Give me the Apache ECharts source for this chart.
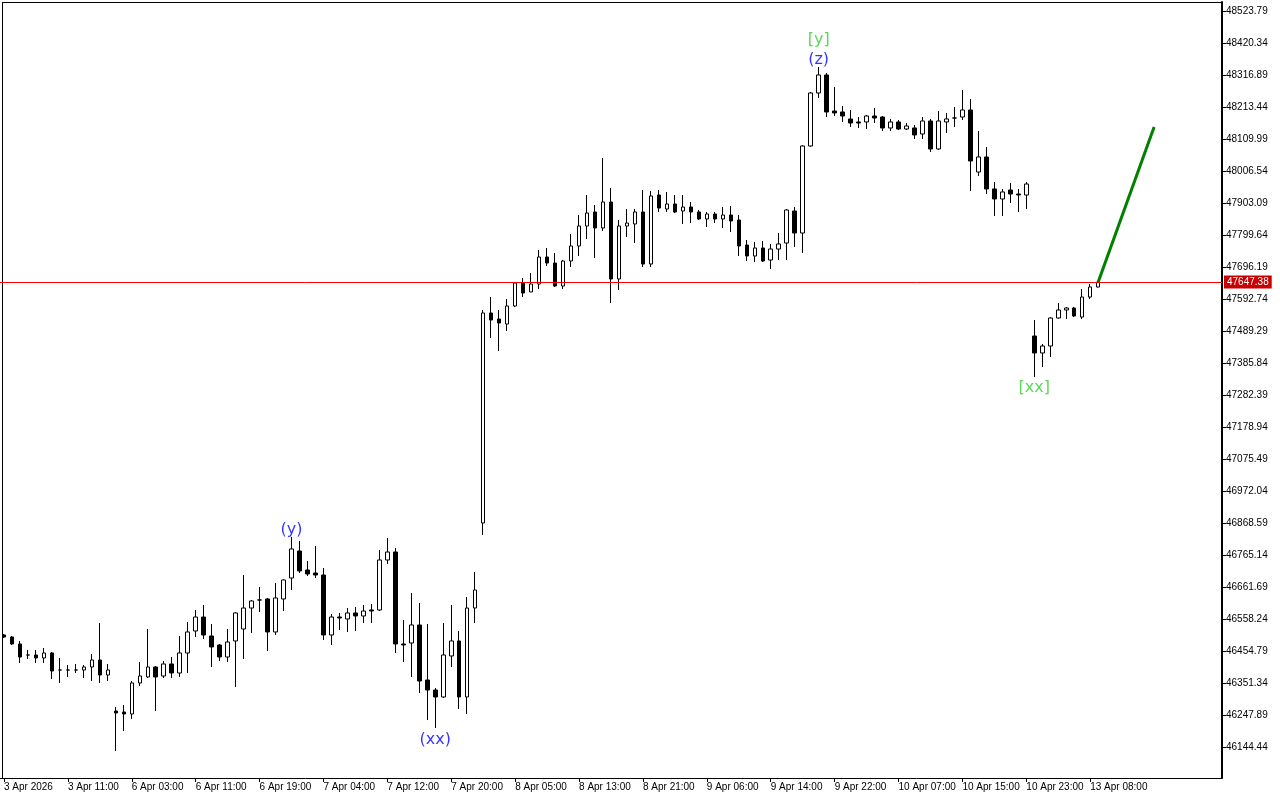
<!DOCTYPE html>
<html><head><meta charset="utf-8">
<script src="https://cdn.jsdelivr.net/npm/echarts@6/dist/echarts.min.js"></script>
<style>html,body{margin:0;padding:0;background:#fff}#c{width:1280px;height:800px}</style>
</head><body><div id="c"></div>
<script>
const xTickLabels = ['3 Apr 2026','3 Apr 11:00','6 Apr 03:00','6 Apr 11:00','6 Apr 19:00','7 Apr 04:00','7 Apr 12:00','7 Apr 20:00','8 Apr 05:00','8 Apr 13:00','8 Apr 21:00','9 Apr 06:00','9 Apr 14:00','9 Apr 22:00','10 Apr 07:00','10 Apr 15:00','10 Apr 23:00','13 Apr 08:00'];
const yTickValues = [48523.79,48420.34,48316.89,48213.44,48109.99,48006.54,47903.09,47799.64,47696.19,47592.74,47489.29,47385.84,47282.39,47178.94,47075.49,46972.04,46868.59,46765.14,46661.69,46558.24,46454.79,46351.34,46247.89,46144.44];

const opens = [46506.6,46500.1,46477.5,46441.9,46441.9,46432.2,46448.4,46393.4,46393.4,46393.4,46393.4,46403.1,46425.7,46377.2,46260.8,46257.6,46251.1,46351.4,46370.8,46403.1,
46374.0,46412.8,46383.7,46448.4,46519.5,46564.7,46503.3,46474.2,46435.4,46487.2,46525.9,46593.8,46619.7,46623.0,46516.3,46623.0,46690.8,46778.1,46716.7,46707.0,
46700.5,46506.6,46564.7,46558.3,46577.7,46568.0,46587.4,46587.4,46749.0,46774.8,46477.5,46480.7,46538.9,46361.0,46328.7,46306.1,46438.7,46487.2,46306.1,46593.8,
46868.6,47547.5,47528.1,47511.9,47570.1,47644.5,47615.4,47641.2,47728.5,47709.1,47634.8,47715.6,47764.1,47828.7,47874.0,47822.3,47906.3,47657.4,47828.7,47835.2,
47874.0,47705.9,47929.0,47883.7,47899.9,47877.2,47890.2,47874.0,47851.4,47867.5,47851.4,47864.3,47848.1,47767.3,47731.8,47757.6,47718.8,47754.3,47773.8,47877.2,
47806.1,48087.4,48258.7,48316.9,48200.5,48197.3,48174.7,48165.0,48165.0,48184.4,48181.1,48145.6,48165.0,48142.3,48145.6,48126.2,48168.2,48077.7,48165.0,48177.9,
48181.1,48203.8,48003.3,48051.8,47948.4,47916.1,47945.1,47932.2,47929.0,47473.1,47418.2,47440.8,47531.3,47557.2,47563.6,47534.5,47599.2,47631.5];
const closes = [46500.1,46477.5,46435.4,46441.9,46432.2,46448.4,46390.2,46393.4,46393.4,46393.4,46403.1,46425.7,46377.2,46393.4,46254.4,46251.1,46351.4,46374.0,46403.1,46370.8,
46412.8,46383.7,46448.4,46516.3,46564.7,46506.6,46467.8,46435.4,46483.9,46577.7,46593.8,46616.5,46619.7,46516.3,46626.2,46684.4,46784.6,46713.5,46703.8,46700.5,
46506.6,46564.7,46561.5,46577.7,46568.0,46584.1,46584.1,46749.0,46774.8,46477.5,46474.2,46538.9,46357.8,46328.7,46306.1,46441.9,46487.2,46306.1,46593.8,46652.0,
47547.5,47524.8,47515.1,47570.1,47644.5,47612.1,47641.2,47728.5,47709.1,47634.8,47715.6,47764.1,47828.7,47870.8,47822.3,47906.3,47657.4,47828.7,47838.4,47874.0,
47705.9,47925.8,47886.9,47899.9,47874.0,47890.2,47874.0,47851.4,47867.5,47851.4,47864.3,47844.9,47764.1,47731.8,47757.6,47715.6,47754.3,47770.6,47880.5,47806.1,
48087.4,48258.7,48316.9,48197.3,48194.1,48184.4,48161.7,48161.7,48184.4,48177.9,48145.6,48165.0,48142.3,48152.0,48123.0,48168.2,48077.7,48168.2,48174.7,48177.9,
48203.8,48038.9,48051.8,47948.4,47916.1,47938.7,47932.2,47929.0,47964.5,47418.2,47440.8,47531.3,47557.2,47563.6,47537.8,47599.2,47631.5,47647.38];
const lows = [46496.9,46474.2,46416.0,46429.0,46416.0,46416.0,46364.3,46351.4,46370.8,46383.7,46367.5,46357.8,46351.4,46357.8,46131.5,46196.2,46235.0,46341.7,46367.5,46260.8,
46367.5,46367.5,46370.8,46383.7,46500.1,46493.6,46403.1,46422.5,46419.3,46338.4,46429.0,46513.0,46580.9,46454.8,46506.6,46584.1,46652.0,46707.0,46697.3,46690.8,
46490.4,46474.2,46522.7,46516.3,46519.5,46545.3,46545.3,46584.1,46736.1,46448.4,46419.3,46370.8,46319.0,46231.7,46205.9,46302.9,46403.1,46267.3,46251.1,46545.3,
46829.9,47466.7,47424.6,47489.3,47566.9,47599.2,47615.4,47625.1,47699.4,47631.5,47625.1,47696.2,47731.8,47786.7,47725.3,47812.6,47579.8,47621.8,47793.2,47773.8,
47696.2,47696.2,47874.0,47874.0,47870.8,47835.2,47838.4,47848.1,47825.5,47838.4,47822.3,47809.4,47731.8,47715.6,47712.4,47712.4,47689.7,47718.8,47718.8,47760.9,
47741.5,48085.0,48242.6,48181.1,48184.4,48165.0,48148.8,48145.6,48142.3,48161.7,48135.9,48135.9,48139.1,48139.1,48110.0,48110.0,48068.0,48075.0,48129.4,48148.8,
48171.4,47941.9,47990.4,47932.2,47861.1,47861.1,47903.1,47874.0,47883.7,47340.6,47372.9,47405.2,47529.0,47528.1,47534.5,47528.1,47592.8,47630.0];
const highs = [46509.8,46503.3,46487.2,46458.1,46458.1,46464.5,46451.6,46432.2,46409.6,46412.8,46409.6,46445.1,46545.3,46412.8,46273.8,46280.2,46357.8,46419.3,46525.9,46406.0,
46422.5,46435.4,46503.3,46548.6,46587.4,46603.5,46542.1,46477.0,46525.9,46580.0,46700.5,46619.7,46661.7,46626.2,46674.7,46686.0,46823.4,46810.5,46745.8,46794.3,
46723.1,46574.4,46577.7,46593.8,46597.1,46603.5,46606.7,46781.4,46820.2,46787.8,46555.0,46642.3,46610.0,46542.1,46335.2,46545.3,46603.5,46519.5,46629.4,46710.2,
47557.2,47599.2,47557.2,47592.8,47647.7,47660.6,47676.8,47751.2,47757.6,47741.5,47718.8,47802.9,47864.3,47929.0,47896.6,48048.6,47951.6,47848.1,47883.7,47883.7,
47945.1,47941.9,47945.1,47938.7,47929.0,47929.0,47906.3,47880.5,47874.0,47874.0,47890.2,47893.4,47864.3,47783.5,47777.0,47780.3,47770.6,47806.1,47883.7,47890.2,
48090.0,48262.0,48342.8,48323.4,48278.1,48216.7,48203.8,48181.1,48187.6,48210.2,48184.4,48174.7,48171.4,48161.7,48155.3,48181.1,48174.7,48200.5,48194.1,48213.5,
48268.4,48239.4,48135.9,48084.2,47971.0,47948.4,47967.8,47948.4,47971.0,47524.8,47447.3,47534.0,47579.8,47566.9,47566.9,47625.1,47641.2,47652.0];

const currentPrice = 47647.38;
const projectionBars = [137, 144];
const projectionValues = [47647.38, 48148.8];

const waveTexts = ['(y)', '(xx)', '(z)', '[y]', '[xx]'];
const waveBars = [36, 54, 102, 102, 129];
const waveSides = ['high', 'low', 'high', 'high', 'low'];

// ---- layout / styles ----
const barSlots = 153;
const categories = Array.from({length: barSlots}, (_, i) =>
  (i % 8 === 0 && xTickLabels[i / 8]) ? xTickLabels[i / 8] : '');
const candles = opens.map((o, i) => [o, closes[i], lows[i], highs[i]]);
const FONT = 'Liberation Sans';
const showTick = (i) => categories[i] !== '';

const waveData = waveTexts.map((t, i) => {
  const b = waveBars[i];
  const isHigh = waveSides[i] === 'high';
  const green = t.charAt(0) === '[';
  const stacked = isHigh && green && waveTexts.some((u, j) => j !== i && waveBars[j] === b && waveSides[j] === 'high');
  return {
    value: [b, isHigh ? highs[b] : lows[b]],
    label: {
      show: true,
      formatter: t,
      position: isHigh ? 'top' : 'bottom',
      distance: isHigh ? (stacked ? 19 : -1) : (green ? 3 : 4),
      color: green ? '#32cd32' : '#0000ff',
      fontFamily: 'DejaVu Sans',
      fontSize: 16,
      lineHeight: 16
    }
  };
});

const chart = echarts.init(document.getElementById('c'), null, {renderer: 'canvas'});
chart.setOption({
  animation: false,
  backgroundColor: '#ffffff',
  grid: {left: -2, right: 58, top: 2, bottom: 22, containLabel: false},
  xAxis: {
    type: 'category',
    data: categories,
    boundaryGap: true,
    axisLine: {show: true, lineStyle: {color: '#000', width: 1}},
    axisTick: {show: true, interval: showTick, alignWithLabel: true, length: 4, lineStyle: {color: '#000'}},
    axisLabel: {show: true, interval: showTick, align: 'left', color: '#000', fontFamily: FONT, fontSize: 10, margin: 4},
    splitLine: {show: false}
  },
  yAxis: {
    type: 'value',
    position: 'right',
    min: 46044.23,
    max: 48552.88,
    scale: true,
    axisLine: {show: true, lineStyle: {color: '#000', width: 2}},
    axisTick: {show: true, length: 4, customValues: yTickValues, lineStyle: {color: '#000'}},
    axisLabel: {show: true, customValues: yTickValues, formatter: v => v.toFixed(2), color: '#000', fontFamily: FONT, fontSize: 10, margin: 4, padding: [2, 0, 0, 0]},
    splitLine: {show: false}
  },
  graphic: [
    {type: 'line', shape: {x1: 2.5, y1: 2, x2: 2.5, y2: 778}, style: {stroke: '#000', lineWidth: 1}, silent: true},
    {type: 'line', shape: {x1: 2, y1: 2.5, x2: 1222, y2: 2.5}, style: {stroke: '#000', lineWidth: 1}, silent: true}
  ],
  series: [
    {
      type: 'candlestick',
      data: candles,
      barWidth: 4,
      itemStyle: {
        color: '#ffffff', color0: '#000000',
        borderColor: '#000000', borderColor0: '#000000', borderColorDoji: '#000000',
        borderWidth: 1
      },
      markLine: {
        silent: true,
        symbol: ['none', 'none'],
        data: [{yAxis: currentPrice}],
        lineStyle: {color: '#ff0000', width: 1, type: 'solid'},
        label: {
          show: true, position: 'end', distance: 2,
          formatter: () => currentPrice.toFixed(2),
          color: '#fff', backgroundColor: '#c80000',
          padding: [2, 3, 1, 3], fontFamily: FONT, fontSize: 10
        }
      }
    },
    {
      type: 'line',
      data: projectionBars.map((b, i) => [b, projectionValues[i]]),
      symbol: 'none',
      lineStyle: {color: '#008000', width: 3},
      z: 5
    },
    {
      type: 'scatter',
      data: waveData,
      symbolSize: 0,
      z: 6
    }
  ]
});
</script>
</body></html>
